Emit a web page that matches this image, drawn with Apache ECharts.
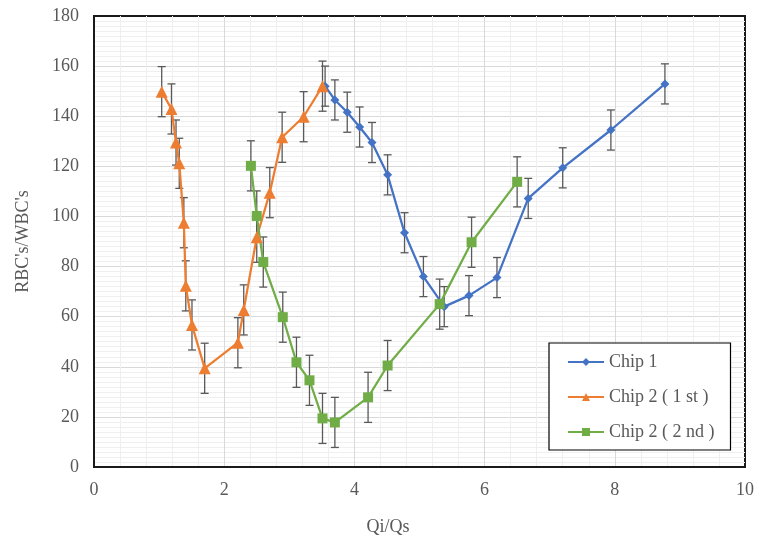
<!DOCTYPE html>
<html>
<head>
<meta charset="utf-8">
<script src="https://cdn.jsdelivr.net/npm/echarts@6/dist/echarts.min.js"></script>
<style>
  html, body {margin: 0; padding: 0; background: #fff;}
  #main {width: 758px; height: 543px;}
</style>
</head>
<body>
<div id="main"></div>
<script>
const names = ['Chip 1', 'Chip 2 ( 1 st )', 'Chip 2 ( 2 nd )'];
const colors = ['#4472C4', '#ED7D31', '#70AD47'];

const chip1X = [3.55, 3.70, 3.89, 4.08, 4.27, 4.51, 4.77, 5.06, 5.38, 5.76, 6.19, 6.67, 7.20, 7.94, 8.77];
const chip1Y = [152, 146.5, 141.6, 135.7, 129.5, 116.6, 93.5, 76, 64, 68.4, 75.6, 107.2, 119.4, 134.5, 152.9];
const chip1Err = [8, 8, 8, 8, 8, 8, 8, 8, 8, 8, 8, 8, 8, 8, 8];

const chip2aX = [1.04, 1.19, 1.26, 1.31, 1.38, 1.41, 1.505, 1.70, 2.21, 2.30, 2.50, 2.70, 2.89, 3.22, 3.51];
const chip2aY = [149.8, 142.9, 129.5, 121.2, 97.5, 72.3, 56.7, 39.4, 49.6, 62.7, 91.7, 109.5, 131.6, 139.8, 152];
const chip2aErr = [10, 10, 9, 10, 10, 10, 10, 10, 10, 10, 10, 10, 10, 10, 10];

const chip2bX = [2.41, 2.50, 2.60, 2.90, 3.11, 3.31, 3.51, 3.70, 4.21, 4.51, 5.31, 5.80, 6.50];
const chip2bY = [120.2, 100.2, 81.8, 59.8, 41.8, 34.6, 19.4, 17.8, 27.8, 40.5, 65, 89.7, 113.8];
const chip2bErr = [10, 10, 10, 10, 10, 10, 10, 10, 10, 10, 10, 10, 10];

const xTicks = [0, 2, 4, 6, 8, 10];
const yTicks = [0, 20, 40, 60, 80, 100, 120, 140, 160, 180];

const font = 'Liberation Serif';
const gray = '#595959';

const pts = (xs, ys) => xs.map((x, i) => [x, ys[i]]);
const bars = (xs, ys, es) => xs.map((x, i) => [x, ys[i] - es[i], ys[i] + es[i]]);

// whiskers with caps
function errorBar(params, api) {
  const x = api.value(0);
  const top = api.coord([x, api.value(2)]);
  const bot = api.coord([x, api.value(1)]);
  const h = 4;
  const style = {stroke: gray, lineWidth: 1.3};
  return {
    type: 'group',
    children: [
      {type: 'line', shape: {x1: top[0], y1: top[1], x2: bot[0], y2: bot[1]}, style},
      {type: 'line', shape: {x1: top[0] - h, y1: top[1], x2: top[0] + h, y2: top[1]}, style},
      {type: 'line', shape: {x1: bot[0] - h, y1: bot[1], x2: bot[0] + h, y2: bot[1]}, style}
    ]
  };
}

const errSeries = (d) => ({
  type: 'custom',
  renderItem: errorBar,
  encode: {x: 0, y: [1, 2]},
  data: d,
  silent: true,
  z: 3
});

const lineSeries = (name, color, symbol, size, d) => ({
  name,
  type: 'line',
  data: d,
  symbol,
  symbolSize: size,
  lineStyle: {color, width: 2.25},
  itemStyle: {color},
  z: 4
});

const chart = echarts.init(document.getElementById('main'));
chart.setOption({
  animation: false,
  backgroundColor: '#fff',
  grid: {
    left: 94, right: 13, top: 16, bottom: 76,
    show: true, borderColor: '#1a1a1a', borderWidth: 2
  },
  xAxis: {
    type: 'value',
    min: xTicks[0], max: xTicks[xTicks.length - 1], interval: 2,
    axisLine: {show: true, lineStyle: {color: '#1a1a1a', width: 2}},
    axisTick: {show: false},
    axisLabel: {fontFamily: font, fontSize: 18, color: gray, margin: 14},
    splitLine: {show: true, showMinLine: false, showMaxLine: false, lineStyle: {color: '#d9d9d9', width: 1}},
    minorTick: {show: false, splitNumber: 5},
    minorSplitLine: {show: true, lineStyle: {color: '#efefef', width: 1}}
  },
  yAxis: {
    type: 'value',
    min: yTicks[0], max: yTicks[yTicks.length - 1], interval: 20,
    name: "RBC's/WBC's",
    nameLocation: 'middle',
    nameGap: 62,
    nameTextStyle: {fontFamily: font, fontSize: 18, color: gray},
    axisLine: {show: true, lineStyle: {color: '#1a1a1a', width: 2}},
    axisTick: {show: false},
    axisLabel: {fontFamily: font, fontSize: 18, color: gray, margin: 15},
    splitLine: {show: true, showMinLine: false, showMaxLine: false, lineStyle: {color: '#d9d9d9', width: 1}},
    minorTick: {show: false, splitNumber: 10},
    minorSplitLine: {show: true, lineStyle: {color: '#efefef', width: 1}}
  },
  graphic: [{
    type: 'text', x: 388, y: 527,
    style: {text: 'Qi/Qs', font: '18px "Liberation Serif"', fill: gray, textAlign: 'center', textVerticalAlign: 'middle'}
  }],
  legend: {
    data: names,
    orient: 'vertical',
    left: 549, top: 343,
    itemWidth: 36, itemHeight: 10, itemGap: 15,
    padding: [9, 16, 8, 18],
    borderColor: '#000', borderWidth: 1.2, borderRadius: 0,
    backgroundColor: '#fff',
    textStyle: {fontFamily: font, fontSize: 18, color: gray, lineHeight: 20}
  },
  series: [
    errSeries(bars(chip1X, chip1Y, chip1Err)),
    errSeries(bars(chip2aX, chip2aY, chip2aErr)),
    errSeries(bars(chip2bX, chip2bY, chip2bErr)),
    lineSeries(names[0], colors[0], 'diamond', 9, pts(chip1X, chip1Y)),
    lineSeries(names[1], colors[1], 'triangle', 12, pts(chip2aX, chip2aY)),
    lineSeries(names[2], colors[2], 'rect', 10, pts(chip2bX, chip2bY))
  ]
});
</script>
</body>
</html>
